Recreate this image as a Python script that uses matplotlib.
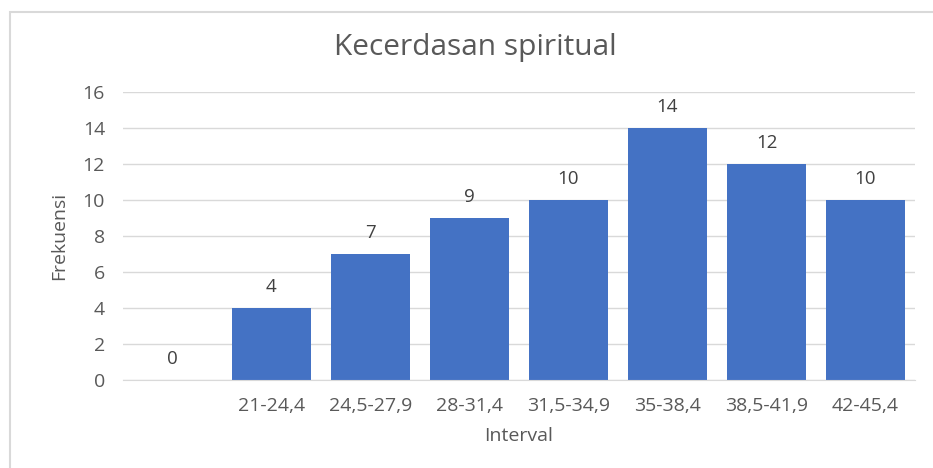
import matplotlib.pyplot as plt
from matplotlib.patches import Rectangle

categories = ["", "21-24,4", "24,5-27,9", "28-31,4", "31,5-34,9",
              "35-38,4", "38,5-41,9", "42-45,4"]
frekuensi = [0, 4, 7, 9, 10, 14, 12, 10]
y_ticks = [0, 2, 4, 6, 8, 10, 12, 14, 16]

plt.rcParams["font.family"] = ["Open Sans", "DejaVu Sans"]

fig = plt.figure(figsize=(9.33, 4.68), dpi=100)
ax = fig.add_axes([123 / 933, 88 / 468, 792 / 933, 288 / 468])

# chart area border (light gray, cut off at right and bottom)
fig.patches.append(Rectangle((10 / 933, -0.05), 1.0, 1.05 - 12 / 468,
                             transform=fig.transFigure, fill=False,
                             edgecolor="#d9d9d9", linewidth=1.5))

x = range(len(categories))
bars = ax.bar(x, frekuensi, width=0.79, color="#4472c4", zorder=3)

for xi, v in zip(x, frekuensi):
    ax.annotate(str(v), (xi, v), xytext=(0, 11.5), textcoords="offset points",
                ha="center", va="baseline", fontsize=13.5, color="#404040")

ax.set_xlim(-0.5, len(categories) - 0.5)
ax.set_ylim(0, 16)
ax.set_yticks(y_ticks)
ax.set_xticks(list(x))
ax.set_xticklabels(categories)
ax.tick_params(axis="both", length=0, labelsize=14, labelcolor="#595959")
ax.tick_params(axis="y", pad=13)
ax.tick_params(axis="x", pad=12)

ax.grid(axis="y", color="#d9d9d9", linewidth=1, zorder=0)
for side in ["top", "right", "left"]:
    ax.spines[side].set_visible(False)
ax.spines["bottom"].set_color("#d9d9d9")
ax.spines["bottom"].set_zorder(4)

ax.set_ylabel("Frekuensi", fontsize=14, color="#595959")
ax.yaxis.set_label_coords(-(123 - 68) / 792, 0.5)
ax.set_xlabel("Interval", fontsize=14, color="#595959")
ax.xaxis.set_label_coords((519 - 123) / 792, -(427 - 380) / 288)
fig.text(475 / 933, 1 - 47 / 468, "Kecerdasan spiritual",
         ha="center", va="center", fontsize=21.5, color="#595959")

plt.savefig("out.png", dpi=100)
